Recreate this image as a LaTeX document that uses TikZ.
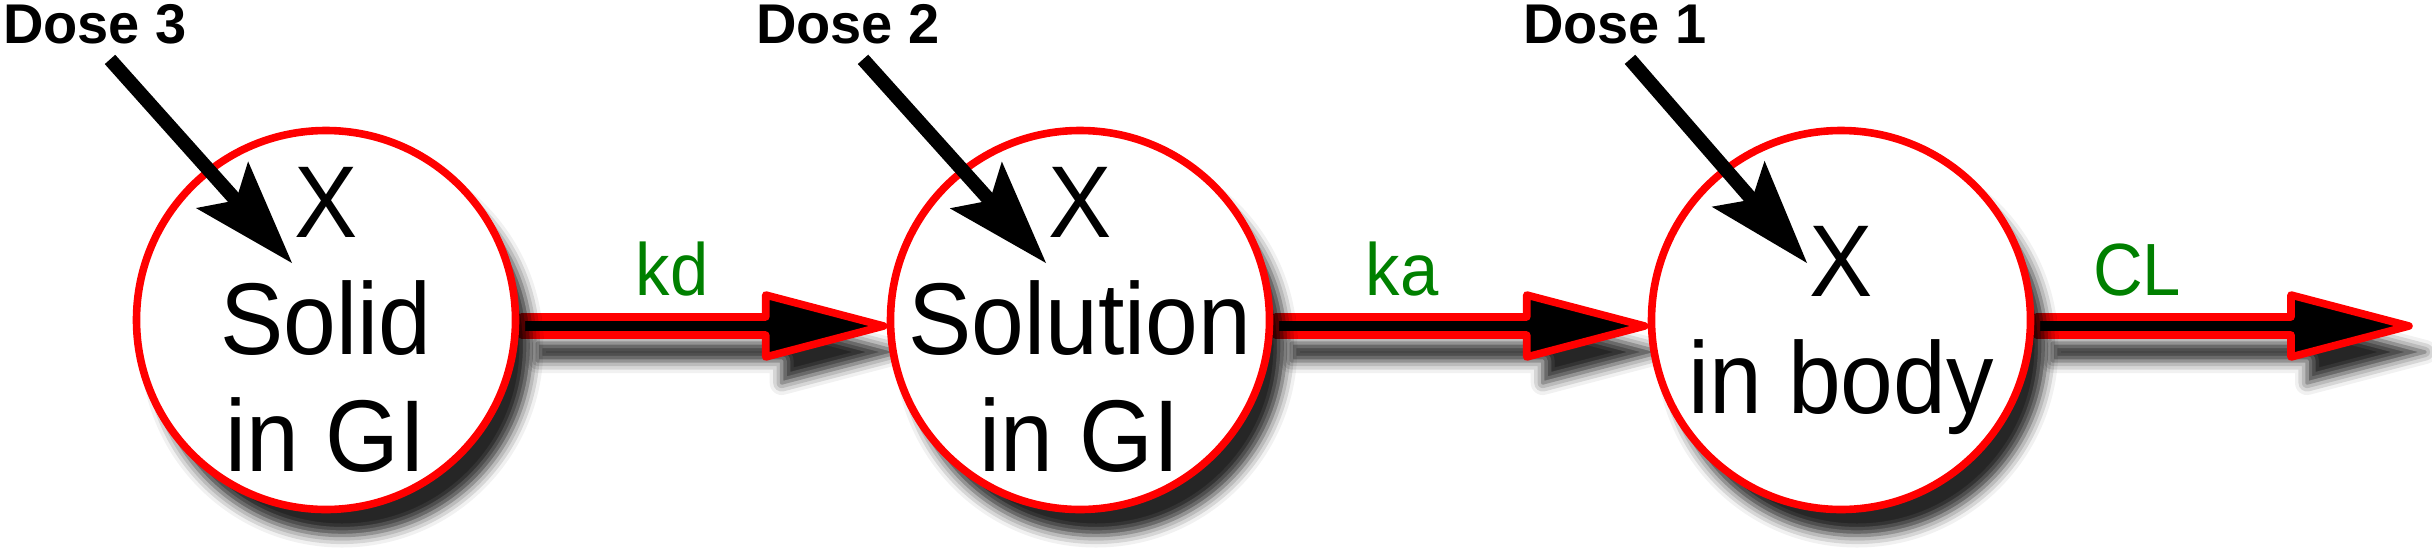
\documentclass[tikz,border=0pt]{standalone}
\usepackage{fontspec}
\setmainfont{Liberation Sans}
\newfontfamily\narrowfont{Liberation Sans}[FakeStretch=0.93]
\usetikzlibrary{calc,shadows.blur}
\pgfdeclarelayer{back}
\pgfsetlayers{back,main}
\definecolor{rategreen}{RGB}{0,128,0}

\begin{document}
\begin{tikzpicture}[x=0.25pt,y=0.25pt,yscale=-1,xscale=1,
    softshadow/.style={blur shadow={shadow xshift=4pt,shadow yshift=-6.5pt,shadow blur radius=3pt,shadow opacity=85}},
    compartment/.style={circle,draw=red,fill=white,line width=1.9pt,minimum size=94.75pt,inner sep=-14pt,align=center,
        font=\narrowfont\fontsize{25.5pt}{29.25pt}\selectfont,softshadow},
    flow/.style={draw=red,fill=black,line width=1.9pt,line join=round,softshadow},
    rate/.style={anchor=base,inner sep=0pt,text=rategreen,font=\narrowfont\fontsize{18.5pt}{22pt}\selectfont},
    dose/.style={anchor=base,inner sep=0pt,font=\bfseries\fontsize{14pt}{16pt}\selectfont},
    doseline/.style={draw=black,line width=3.5pt},
    dosehead/.style={fill=black}]
    %set diagram size to the reference
    \useasboundingbox (0,0) rectangle (2432,547);

    %Shape: Circle [solid]
    \node[compartment] (solid) at (326,320) {X\\Solid\\in GI};
    %Shape: Circle [solution]
    \node[compartment] (solution) at (1080,320) {X\\Solution\\in GI};
    %Shape: Circle [body]
    \node[compartment,text depth=0pt] (body) at (1841,320) {X\\in body};
    \coordinate (elim) at (2412,320);

    %Block Arrows
    \begin{pgfonlayer}{back}
    \foreach \a/\b in {solid.east/solution.west,solution.east/body.west,body.east/elim}
        \path[flow] ($(\a)+(2,-3)$) -- ($(\b)+(-121,-3)$) -- ($(\b)+(-121,-25)$) -- ($(\b)+(-3,6)$)
            -- ($(\b)+(-121,37)$) -- ($(\b)+(-121,15)$) -- ($(\a)+(2,15)$) -- cycle;
    \end{pgfonlayer}

    % Text Node
    \node[rate] (kd) at (672,295) {kd};
    % Text Node
    \node[rate] (ka) at (1402,295) {ka};
    % Text Node
    \node[rate] (cl) at (2137,295) {CL};

    % Text Node
    \node[dose] (dose3) at (95,43) {Dose 3};
    % Text Node
    \node[dose] (dose2) at (848,43) {Dose 2};
    % Text Node
    \node[dose] (dose1) at (1615,43) {Dose 1};

    %Straight Lines with heads
    \foreach \d/\c in {dose3/solid,dose2/solution,dose1/body} {
        \coordinate (s) at ($(\d.south)+(15,15)$);
        \coordinate (t) at ($(\c.center)+(-34,-57)$);
        \coordinate (m) at ($(t)!26.25pt!(s)$);
        \draw[doseline] (s) -- ($(t)!20pt!(s)$);
        \fill[dosehead] (t) -- ($(m)!8.75pt!90:(t)$) -- ($(t)!21pt!(s)$) -- ($(m)!8.75pt!-90:(t)$) -- cycle;
    }
\end{tikzpicture}
\end{document}
